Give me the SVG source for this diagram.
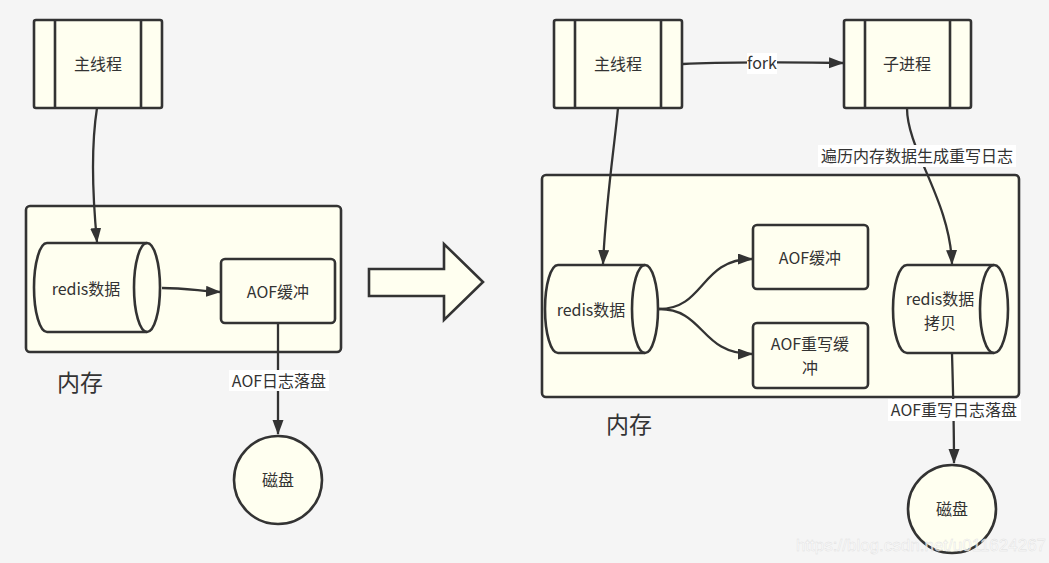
<svg xmlns="http://www.w3.org/2000/svg" width="1049" height="563" viewBox="0 0 1049 563">
<defs>
<marker id="arr" markerUnits="userSpaceOnUse" markerWidth="16" markerHeight="12" refX="14" refY="5.5" orient="auto">
<path d="M0,0 L15,5.5 L0,11 Z" fill="#333"/>
</marker>
<style>
.bg{fill:#f5f5f5}
.n{fill:#fffff0;stroke:#333;stroke-width:2.6}
.ln{fill:none;stroke:#333;stroke-width:2.6}
.c{fill:none;stroke:#333;stroke-width:2.3}
.t{font-family:"Microsoft YaHei","Noto Sans CJK SC","Noto Sans",sans-serif;font-size:16px;fill:#333;text-anchor:middle;dominant-baseline:central}
.big{font-size:23px}
.lb{fill:#ffffff}
.wm{font-family:"Liberation Sans",Arial,sans-serif;font-size:17px;fill:#ffffff;fill-opacity:0.7;stroke:#dddddd;stroke-width:0.4;text-anchor:middle;dominant-baseline:central}
</style>
</defs>
<rect class="bg" x="0" y="0" width="1049" height="563"/>

<!-- left side -->
<g id="mem-left">
<rect class="n" x="26" y="206" width="315" height="146" rx="4"/>
</g>
<text class="t big" x="80" y="381">内存</text>
<g id="main-left">
<rect class="n" x="34" y="20" width="128" height="88" rx="2"/>
<line class="ln" x1="55" y1="20" x2="55" y2="108"/>
<line class="ln" x1="141" y1="20" x2="141" y2="108"/>
<text class="t" x="98" y="63">主线程</text>
</g>
<g id="redis-left">
<path class="n" d="M47,243 L147,243 A13,44.5 0 0 1 147,332 L47,332 A13,44.5 0 0 1 47,243 Z"/>
<path class="ln" d="M147,243 A13,44.5 0 0 0 147,332"/>
<text class="t" x="86" y="288">redis数据</text>
</g>
<g id="aofbuf-left">
<rect class="n" x="221" y="259" width="114" height="64" rx="4"/>
<text class="t" x="278" y="291">AOF缓冲</text>
</g>
<g id="disk-left">
<circle class="n" cx="278" cy="480" r="44"/>
<text class="t" x="278" y="479">磁盘</text>
</g>

<!-- transition arrow -->
<g id="big-arrow">
<path class="n" d="M369,269 L444,269 L444,244 L483,282 L444,320 L444,296 L369,296 Z"/>
</g>

<!-- right side -->
<g id="mem-right">
<rect class="n" x="542" y="175" width="477" height="222" rx="4"/>
</g>
<text class="t big" x="629" y="423">内存</text>
<g id="main-right">
<rect class="n" x="554" y="20" width="128" height="88" rx="2"/>
<line class="ln" x1="575" y1="20" x2="575" y2="108"/>
<line class="ln" x1="661" y1="20" x2="661" y2="108"/>
<text class="t" x="618" y="63">主线程</text>
</g>
<g id="child">
<rect class="n" x="844" y="20" width="127" height="88" rx="2"/>
<line class="ln" x1="865" y1="20" x2="865" y2="108"/>
<line class="ln" x1="950" y1="20" x2="950" y2="108"/>
<text class="t" x="907" y="63">子进程</text>
</g>
<g id="redis-right">
<path class="n" d="M558,265 L645,265 A13,44 0 0 1 645,353 L558,353 A13,44 0 0 1 558,265 Z"/>
<path class="ln" d="M645,265 A13,44 0 0 0 645,353"/>
<text class="t" x="591" y="309">redis数据</text>
</g>
<g id="aofbuf-right">
<rect class="n" x="753" y="225" width="115" height="64" rx="4"/>
<text class="t" x="810" y="257">AOF缓冲</text>
</g>
<g id="aofrw">
<rect class="n" x="753" y="323" width="115" height="65" rx="4"/>
<text class="t" x="810" y="343">AOF重写缓<tspan x="810" dy="23.5">冲</tspan></text>
</g>
<g id="redis-copy">
<path class="n" d="M907,265 L994,265 A14,44 0 0 1 994,353 L907,353 A14,44 0 0 1 907,265 Z"/>
<path class="ln" d="M994,265 A14,44 0 0 0 994,353"/>
<text class="t" x="940" y="298">redis数据<tspan x="940" dy="23.5">拷贝</tspan></text>
</g>
<g id="disk-right">
<circle class="n" cx="952" cy="509" r="44"/>
<text class="t" x="952" y="508">磁盘</text>
</g>

<!-- connectors -->
<g id="connectors">
<path class="c" d="M97,108 C92,140 92,190 97,242" marker-end="url(#arr)"/>
<path class="c" d="M162,288 C185,288 200,291 220,292" marker-end="url(#arr)"/>
<path class="c" d="M278,323 L278,434" marker-end="url(#arr)"/>
<path class="c" d="M683,64 C720,62 800,62 843,63" marker-end="url(#arr)"/>
<path class="c" d="M618,108 C614,150 606,200 603,264" marker-end="url(#arr)"/>
<path class="c" d="M907,108 C907,150 950,200 952,264" marker-end="url(#arr)"/>
<path class="c" d="M659,309 C705,309 700,259 752,259" marker-end="url(#arr)"/>
<path class="c" d="M659,309 C705,309 700,354 752,354" marker-end="url(#arr)"/>
<path class="c" d="M952,353 C953,390 954,420 954,463" marker-end="url(#arr)"/>
<rect class="lb" x="229" y="370" width="100" height="21"/>
<text class="t" x="279" y="380">AOF日志落盘</text>
<rect class="lb" x="747" y="53" width="30" height="21"/>
<text class="t" x="762" y="62">fork</text>
<rect class="lb" x="818" y="145" width="198" height="22"/>
<text class="t" x="917" y="155">遍历内存数据生成重写日志</text>
<rect class="lb" x="888" y="399" width="133" height="22"/>
<text class="t" x="954" y="409">AOF重写日志落盘</text>
</g>
<text class="wm" x="921" y="545">https://blog.csdn.net/u011624267</text>
</svg>
